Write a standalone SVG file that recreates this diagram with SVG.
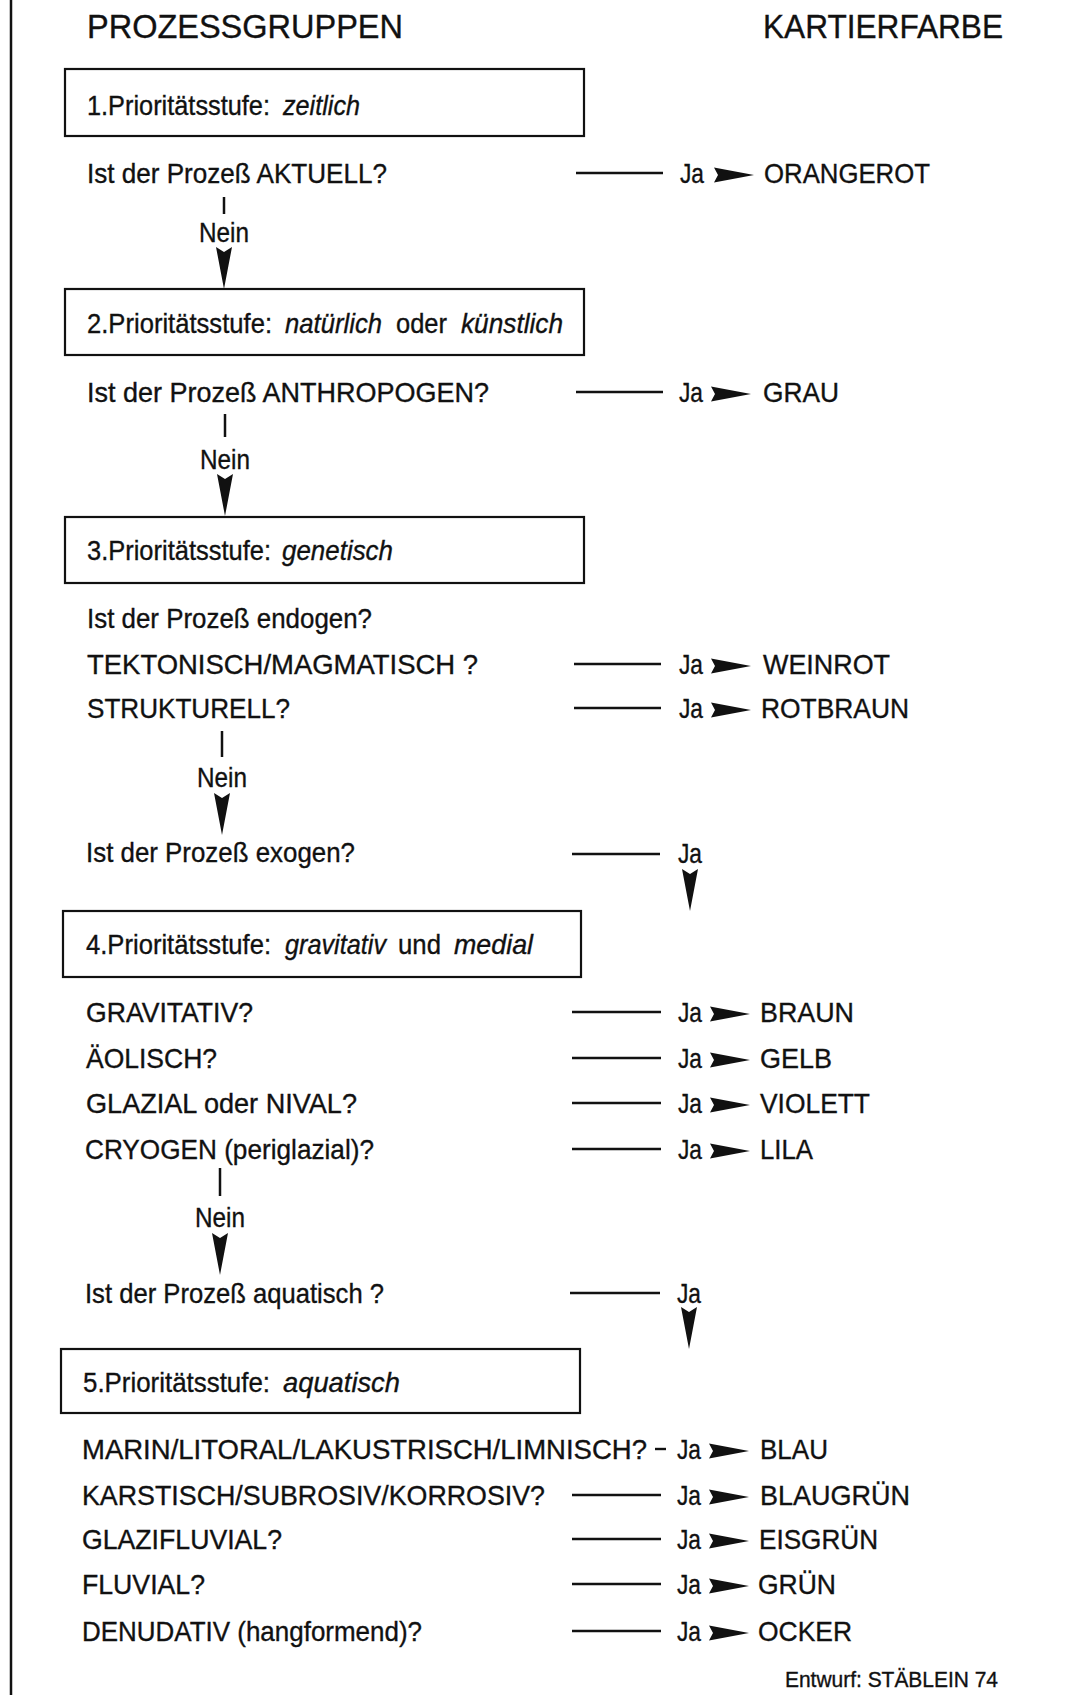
<svg xmlns="http://www.w3.org/2000/svg" xmlns:xlink="http://www.w3.org/1999/xlink" width="1070" height="1695" viewBox="0 0 1070 1695">
<style>
text{font-family:"Liberation Sans",Arial,sans-serif;fill:#111;stroke:#111;stroke-width:0.35;}
.h{font-size:34px;}
.t{font-size:28px;}
.s{font-size:22px;}
.i{font-style:italic;}
.box{fill:#fff;stroke:#111;stroke-width:2.2;}
.ln{stroke:#111;stroke-width:2.4;fill:none;}
.st{stroke:#111;stroke-width:2.5;fill:none;}
.ah{fill:#111;stroke:none;}
</style>
<defs>
<path id="harr" d="M0,-7.5 L40,0 L0,7.5 L4,0 Z"/>
<path id="darr" d="M-8,0 L0,5 L8,0 L0,42 Z"/>
</defs>
<rect x="0" y="0" width="1070" height="1695" fill="#fff"/>
<line x1="11" y1="0" x2="11" y2="1695" class="st"/>

<g id="headings">
<text class="h" x="87" y="38" textLength="316" lengthAdjust="spacingAndGlyphs">PROZESSGRUPPEN</text>
<text class="h" x="763" y="38" textLength="240" lengthAdjust="spacingAndGlyphs">KARTIERFARBE</text>
</g>

<g id="stufe1">
<rect class="box" x="65" y="69" width="519" height="67"/>
<text class="t" x="87" y="115" textLength="183" lengthAdjust="spacingAndGlyphs">1.Prioritätsstufe:</text>
<text class="t i" x="283" y="115" textLength="77" lengthAdjust="spacingAndGlyphs">zeitlich</text>
</g>
<g id="q-aktuell"><text class="t" x="87" y="183" textLength="300" lengthAdjust="spacingAndGlyphs">Ist der Prozeß AKTUELL?</text></g>
<g id="c-orangerot"><text class="t" x="764" y="183" textLength="166" lengthAdjust="spacingAndGlyphs">ORANGEROT</text></g>

<g id="stufe2">
<rect class="box" x="65" y="289" width="519" height="66"/>
<text class="t" x="87" y="333" textLength="185" lengthAdjust="spacingAndGlyphs">2.Prioritätsstufe:</text>
<text class="t i" x="285" y="333" textLength="97" lengthAdjust="spacingAndGlyphs">natürlich</text>
<text class="t" x="396" y="333" textLength="51" lengthAdjust="spacingAndGlyphs">oder</text>
<text class="t i" x="461" y="333" textLength="102" lengthAdjust="spacingAndGlyphs">künstlich</text>
</g>
<g id="q-anthropogen"><text class="t" x="87" y="402" textLength="402" lengthAdjust="spacingAndGlyphs">Ist der Prozeß ANTHROPOGEN?</text></g>
<g id="c-grau"><text class="t" x="763" y="402" textLength="76" lengthAdjust="spacingAndGlyphs">GRAU</text></g>

<g id="stufe3">
<rect class="box" x="65" y="517" width="519" height="66"/>
<text class="t" x="87" y="560" textLength="184" lengthAdjust="spacingAndGlyphs">3.Prioritätsstufe:</text>
<text class="t i" x="282" y="560" textLength="111" lengthAdjust="spacingAndGlyphs">genetisch</text>
</g>
<g id="q-endogen"><text class="t" x="87" y="628" textLength="285" lengthAdjust="spacingAndGlyphs">Ist der Prozeß endogen?</text></g>
<g id="q-tektonisch"><text class="t" x="87" y="674" textLength="391" lengthAdjust="spacingAndGlyphs">TEKTONISCH/MAGMATISCH ?</text></g>
<g id="c-weinrot"><text class="t" x="763" y="674" textLength="127" lengthAdjust="spacingAndGlyphs">WEINROT</text></g>
<g id="q-strukturell"><text class="t" x="87" y="718" textLength="203" lengthAdjust="spacingAndGlyphs">STRUKTURELL?</text></g>
<g id="c-rotbraun"><text class="t" x="761" y="718" textLength="148" lengthAdjust="spacingAndGlyphs">ROTBRAUN</text></g>
<g id="q-exogen"><text class="t" x="86" y="862" textLength="269" lengthAdjust="spacingAndGlyphs">Ist der Prozeß exogen?</text></g>

<g id="stufe4">
<rect class="box" x="63" y="911" width="518" height="66"/>
<text class="t" x="86" y="954" textLength="185" lengthAdjust="spacingAndGlyphs">4.Prioritätsstufe:</text>
<text class="t i" x="285" y="954" textLength="101" lengthAdjust="spacingAndGlyphs">gravitativ</text>
<text class="t" x="398" y="954" textLength="43" lengthAdjust="spacingAndGlyphs">und</text>
<text class="t i" x="454" y="954" textLength="79" lengthAdjust="spacingAndGlyphs">medial</text>
</g>
<g id="q-gravitativ"><text class="t" x="86" y="1022" textLength="167" lengthAdjust="spacingAndGlyphs">GRAVITATIV?</text></g>
<g id="c-braun"><text class="t" x="760" y="1022" textLength="94" lengthAdjust="spacingAndGlyphs">BRAUN</text></g>
<g id="q-aeolisch"><text class="t" x="86" y="1068" textLength="131" lengthAdjust="spacingAndGlyphs">ÄOLISCH?</text></g>
<g id="c-gelb"><text class="t" x="760" y="1068" textLength="72" lengthAdjust="spacingAndGlyphs">GELB</text></g>
<g id="q-glazial"><text class="t" x="86" y="1113" textLength="271" lengthAdjust="spacingAndGlyphs">GLAZIAL oder NIVAL?</text></g>
<g id="c-violett"><text class="t" x="760" y="1113" textLength="110" lengthAdjust="spacingAndGlyphs">VIOLETT</text></g>
<g id="q-cryogen"><text class="t" x="85" y="1159" textLength="289" lengthAdjust="spacingAndGlyphs">CRYOGEN (periglazial)?</text></g>
<g id="c-lila"><text class="t" x="760" y="1159" textLength="53" lengthAdjust="spacingAndGlyphs">LILA</text></g>
<g id="q-aquatisch"><text class="t" x="85" y="1303" textLength="299" lengthAdjust="spacingAndGlyphs">Ist der Prozeß aquatisch ?</text></g>

<g id="stufe5">
<rect class="box" x="61" y="1349" width="519" height="64"/>
<text class="t" x="83" y="1392" textLength="187" lengthAdjust="spacingAndGlyphs">5.Prioritätsstufe:</text>
<text class="t i" x="283" y="1392" textLength="117" lengthAdjust="spacingAndGlyphs">aquatisch</text>
</g>
<g id="q-marin"><text class="t" x="82" y="1459" textLength="565" lengthAdjust="spacingAndGlyphs">MARIN/LITORAL/LAKUSTRISCH/LIMNISCH?</text></g>
<g id="c-blau"><text class="t" x="760" y="1459" textLength="68" lengthAdjust="spacingAndGlyphs">BLAU</text></g>
<g id="q-karstisch"><text class="t" x="82" y="1505" textLength="463" lengthAdjust="spacingAndGlyphs">KARSTISCH/SUBROSIV/KORROSIV?</text></g>
<g id="c-blaugruen"><text class="t" x="760" y="1505" textLength="150" lengthAdjust="spacingAndGlyphs">BLAUGRÜN</text></g>
<g id="q-glazifluvial"><text class="t" x="82" y="1549" textLength="200" lengthAdjust="spacingAndGlyphs">GLAZIFLUVIAL?</text></g>
<g id="c-eisgruen"><text class="t" x="759" y="1549" textLength="119" lengthAdjust="spacingAndGlyphs">EISGRÜN</text></g>
<g id="q-fluvial"><text class="t" x="82" y="1594" textLength="123" lengthAdjust="spacingAndGlyphs">FLUVIAL?</text></g>
<g id="c-gruen"><text class="t" x="758" y="1594" textLength="78" lengthAdjust="spacingAndGlyphs">GRÜN</text></g>
<g id="q-denudativ"><text class="t" x="82" y="1641" textLength="340" lengthAdjust="spacingAndGlyphs">DENUDATIV (hangformend)?</text></g>
<g id="c-ocker"><text class="t" x="758" y="1641" textLength="94" lengthAdjust="spacingAndGlyphs">OCKER</text></g>

<g id="credit"><text class="s" x="785" y="1687" textLength="213" lengthAdjust="spacingAndGlyphs">Entwurf: STÄBLEIN 74</text></g>

<g id="connectors">
<line class="st" x1="224" y1="197" x2="224" y2="214"/>
<text class="t" x="199" y="242" textLength="50" lengthAdjust="spacingAndGlyphs">Nein</text>
<use xlink:href="#darr" class="ah" x="224" y="247"/>
<line class="st" x1="225" y1="414" x2="225" y2="437"/>
<text class="t" x="200" y="469" textLength="50" lengthAdjust="spacingAndGlyphs">Nein</text>
<use xlink:href="#darr" class="ah" x="225" y="474"/>
<line class="st" x1="222" y1="731" x2="222" y2="757"/>
<text class="t" x="197" y="787" textLength="50" lengthAdjust="spacingAndGlyphs">Nein</text>
<use xlink:href="#darr" class="ah" x="222" y="793"/>
<line class="st" x1="220" y1="1168" x2="220" y2="1196"/>
<text class="t" x="195" y="1227" textLength="50" lengthAdjust="spacingAndGlyphs">Nein</text>
<use xlink:href="#darr" class="ah" x="220" y="1233"/>

<line class="ln" x1="576" y1="173" x2="663" y2="173"/>
<text class="t" x="680" y="183" textLength="24" lengthAdjust="spacingAndGlyphs">Ja</text>
<use xlink:href="#harr" class="ah" x="714" y="175"/>

<line class="ln" x1="576" y1="392" x2="663" y2="392"/>
<text class="t" x="679" y="402" textLength="24" lengthAdjust="spacingAndGlyphs">Ja</text>
<use xlink:href="#harr" class="ah" x="711" y="394"/>

<line class="ln" x1="574" y1="664" x2="661" y2="664"/>
<text class="t" x="679" y="674" textLength="24" lengthAdjust="spacingAndGlyphs">Ja</text>
<use xlink:href="#harr" class="ah" x="711" y="666"/>

<line class="ln" x1="574" y1="708" x2="661" y2="708"/>
<text class="t" x="679" y="718" textLength="24" lengthAdjust="spacingAndGlyphs">Ja</text>
<use xlink:href="#harr" class="ah" x="711" y="710"/>

<line class="ln" x1="572" y1="854" x2="660" y2="854"/>
<text class="t" x="678" y="863" textLength="24" lengthAdjust="spacingAndGlyphs">Ja</text>
<use xlink:href="#darr" class="ah" x="690" y="869"/>

<line class="ln" x1="572" y1="1012" x2="661" y2="1012"/>
<text class="t" x="678" y="1022" textLength="24" lengthAdjust="spacingAndGlyphs">Ja</text>
<use xlink:href="#harr" class="ah" x="710" y="1014"/>

<line class="ln" x1="572" y1="1058" x2="661" y2="1058"/>
<text class="t" x="678" y="1068" textLength="24" lengthAdjust="spacingAndGlyphs">Ja</text>
<use xlink:href="#harr" class="ah" x="710" y="1060"/>

<line class="ln" x1="572" y1="1103" x2="661" y2="1103"/>
<text class="t" x="678" y="1113" textLength="24" lengthAdjust="spacingAndGlyphs">Ja</text>
<use xlink:href="#harr" class="ah" x="710" y="1105"/>

<line class="ln" x1="572" y1="1149" x2="661" y2="1149"/>
<text class="t" x="678" y="1159" textLength="24" lengthAdjust="spacingAndGlyphs">Ja</text>
<use xlink:href="#harr" class="ah" x="710" y="1151"/>

<line class="ln" x1="570" y1="1293" x2="660" y2="1293"/>
<text class="t" x="677" y="1303" textLength="24" lengthAdjust="spacingAndGlyphs">Ja</text>
<use xlink:href="#darr" class="ah" x="689" y="1307"/>

<line class="ln" x1="655" y1="1449" x2="666" y2="1449"/>
<text class="t" x="677" y="1459" textLength="24" lengthAdjust="spacingAndGlyphs">Ja</text>
<use xlink:href="#harr" class="ah" x="709" y="1451"/>

<line class="ln" x1="572" y1="1495" x2="661" y2="1495"/>
<text class="t" x="677" y="1505" textLength="24" lengthAdjust="spacingAndGlyphs">Ja</text>
<use xlink:href="#harr" class="ah" x="709" y="1497"/>

<line class="ln" x1="572" y1="1539" x2="661" y2="1539"/>
<text class="t" x="677" y="1549" textLength="24" lengthAdjust="spacingAndGlyphs">Ja</text>
<use xlink:href="#harr" class="ah" x="709" y="1541"/>

<line class="ln" x1="572" y1="1584" x2="661" y2="1584"/>
<text class="t" x="677" y="1594" textLength="24" lengthAdjust="spacingAndGlyphs">Ja</text>
<use xlink:href="#harr" class="ah" x="709" y="1586"/>

<line class="ln" x1="572" y1="1631" x2="661" y2="1631"/>
<text class="t" x="677" y="1641" textLength="24" lengthAdjust="spacingAndGlyphs">Ja</text>
<use xlink:href="#harr" class="ah" x="709" y="1633"/>
</g>
</svg>
